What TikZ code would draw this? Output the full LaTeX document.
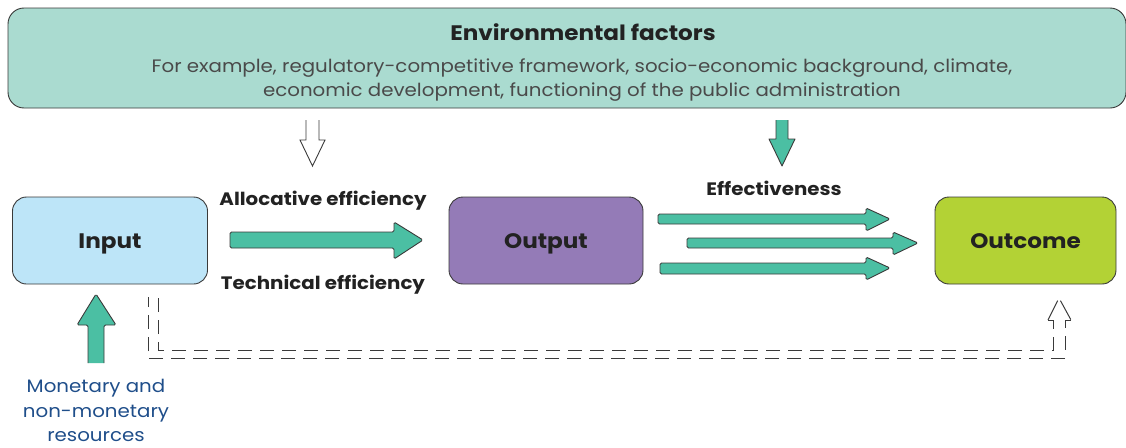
\documentclass[tikz,border=0pt]{standalone}
\usepackage{fontspec}
\setmainfont{Poppins}[FakeStretch=1.1]
\usetikzlibrary{positioning}
\definecolor{envfill}{HTML}{AADBD0}
\definecolor{teal}{HTML}{4BBFA3}
\definecolor{inblue}{HTML}{BDE5F8}
\definecolor{outpurp}{HTML}{947BB7}
\definecolor{outlime}{HTML}{B3D235}
\definecolor{edge}{HTML}{3A3A3A}
\definecolor{txt}{HTML}{222222}
\definecolor{subtxt}{HTML}{4A4A4A}
\definecolor{resblue}{HTML}{1F4E8A}
\tikzset{
  box/.style={draw=edge, line width=0.9pt, rounded corners=14pt, minimum width=195pt, minimum height=87pt, inner sep=0pt, text height=15pt, text depth=0pt, font=\fontsize{21}{24}\selectfont\bfseries, text=txt},
  blockarrow/.style={fill=teal, draw=edge, line width=0.9pt, rounded corners=1.5pt, line join=round},
  hollowarrow/.style={fill=white, draw=edge, line width=0.9pt, line join=miter},
  lbl/.style={font=\fontsize{18}{20}\selectfont\bfseries, text=txt, inner sep=0pt},
  dashline/.style={draw=edge, line width=1pt, dash pattern=on 14pt off 8pt},
}
\begin{document}
\begin{tikzpicture}[x=1pt,y=-1pt]
\useasboundingbox (0,0) rectangle (1126,447);
% environment box
\node[draw=edge, line width=0.9pt, fill=envfill, rounded corners=16pt, minimum width=1118pt, minimum height=100pt, inner sep=0pt] (env) at (567,58) {};
\node[font=\fontsize{21}{24}\selectfont\bfseries, text=txt, inner sep=0pt] (envt) at (583,32) {Environmental factors};
\node[font=\fontsize{18}{23.5}\selectfont, text=subtxt, align=center, inner sep=0pt] (envs) at (582,80) {For example, regulatory-competitive framework, socio-economic background, climate,\\economic development, functioning of the public administration};
% boxes
\node[box, fill=inblue] (in) at (110,240.5) {Input};
\node[box, fill=outpurp, minimum width=194pt] (out) at (546,240.5) {Output};
\node[box, fill=outlime, minimum width=181pt] (oc) at (1025.5,240.5) {Outcome};
% labels
\node[lbl] (alloc) at (323,201) {Allocative efficiency};
\node[lbl] (tech) at (323,285) {Technical efficiency};
\node[lbl] (eff) at (774,188) {Effectiveness};
\node[font=\fontsize{18}{24.5}\selectfont, text=resblue, align=center, inner sep=0pt] (res) at (96,410.5) {Monetary and\\non-monetary\\resources};
% down arrows from environment
\draw[hollowarrow] (306,120) -- (306,140) -- (300,140) -- (312.5,166) -- (325,140) -- (319,140) -- (319,120);
\draw[blockarrow, rounded corners=0pt] (776,120) -- (776,139) -- (769,139) -- (782,166) -- (795,139) -- (788,139) -- (788,120);
\fill[white] (300,115) rectangle (330,120.4);
\fill[white] (765,115) rectangle (800,120.4);
% input -> output
\draw[blockarrow] (230,232) -- (394,232) -- (394,222) -- (423,240) -- (394,259) -- (394,248) -- (230,248) -- cycle;
% output -> outcome
\draw[blockarrow] (658,214) -- (866,214) -- (866,208) -- (890,219) -- (866,231) -- (866,224) -- (658,224) -- cycle;
\draw[blockarrow] (687,238) -- (893,238) -- (893,232) -- (918,243) -- (893,255) -- (893,248) -- (687,248) -- cycle;
\draw[blockarrow] (660,263) -- (866,263) -- (866,257) -- (890,268) -- (866,280) -- (866,274) -- (660,274) -- cycle;
% resources arrow
\draw[blockarrow] (88,363) -- (88,325) -- (77,325) -- (96,294) -- (116,325) -- (104,325) -- (104,363);
% dashed feedback
\draw[dashline] (1048,320) -- (1053,320) -- (1053,350) -- (158,350) -- (158,297);
\draw[dashline] (1071,320) -- (1065,320) -- (1065,358) -- (148,358) -- (148,297);
\draw[dashline, dash pattern=on 21.6pt off 6pt] (1048,320) -- (1059,298) -- (1071,320);
\end{tikzpicture}
\end{document}
